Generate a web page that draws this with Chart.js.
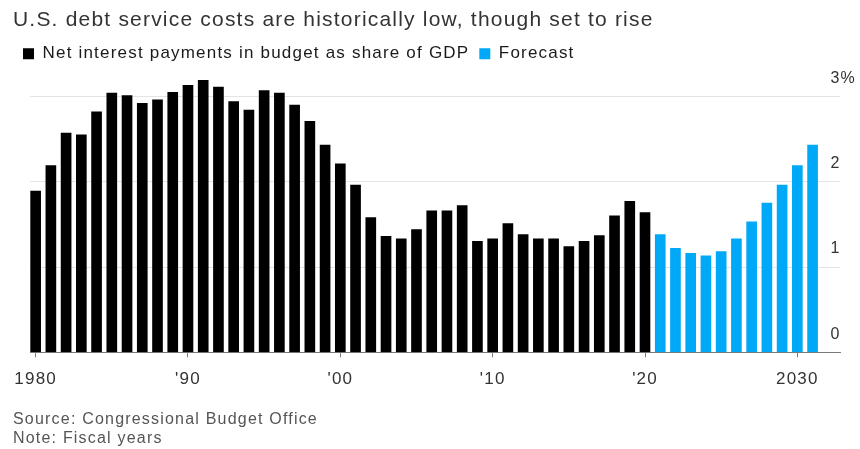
<!DOCTYPE html>
<html><head><meta charset="utf-8">
<script src="https://cdn.jsdelivr.net/npm/chart.js@4/dist/chart.umd.min.js"></script>
<style>html,body{margin:0;padding:0;background:#fff}</style>
</head><body>
<canvas id="c" width="860" height="449"></canvas>
<script>
const actualYears = [1980,1981,1982,1983,1984,1985,1986,1987,1988,1989,1990,1991,1992,1993,1994,1995,1996,1997,1998,1999,2000,2001,2002,2003,2004,2005,2006,2007,2008,2009,2010,2011,2012,2013,2014,2015,2016,2017,2018,2019,2020];
const actualValues = [1.89,2.19,2.57,2.55,2.82,3.04,3.01,2.92,2.96,3.05,3.13,3.19,3.11,2.94,2.84,3.07,3.04,2.90,2.71,2.43,2.21,1.96,1.58,1.36,1.33,1.44,1.66,1.66,1.72,1.30,1.33,1.51,1.38,1.33,1.33,1.24,1.30,1.37,1.60,1.77,1.64];
const forecastYears = [2021,2022,2023,2024,2025,2026,2027,2028,2029,2030,2031];
const forecastValues = [1.38,1.22,1.16,1.13,1.18,1.33,1.53,1.75,1.96,2.19,2.43];
const xTickYears = [1980,1990,2000,2010,2020,2030];
const xTickLabels = ['1980',"'90","'00","'10","'20",'2030'];
const yTickValues = [0,1,2,3];
const yTickLabels = ['0','1','2','3%'];

Chart.defaults.font.family = "'Liberation Sans', Arial, sans-serif";
const spacing = {
  id: 'spacing',
  beforeLayout(chart) { chart.ctx.letterSpacing = '1.2px'; },
  beforeDraw(chart) { chart.ctx.letterSpacing = '1.2px'; }
};
const ctx = document.getElementById('c').getContext('2d');
new Chart(ctx, {
  type: 'bar',
  plugins: [spacing],
  data: {
    datasets: [
      { label: 'Net interest payments in budget as share of GDP',
        data: actualYears.map((y,i)=>({x:y, y:actualValues[i]})),
        backgroundColor: '#000000', barThickness: 10, grouped: false, yAxisID: 'y' },
      { label: 'Forecast',
        data: forecastYears.map((y,i)=>({x:y, y:forecastValues[i]})),
        backgroundColor: '#00a9f8', barThickness: 10, grouped: false, yAxisID: 'y' }
    ]
  },
  options: {
    responsive: false,
    devicePixelRatio: 1,
    animation: false,
    layout: { padding: { left: 13, right: 0, top: 0, bottom: 0 } },
    plugins: {
      title: { display: true, align: 'start', text: 'U.S. debt service costs are historically low, though set to rise',
        color: '#333', font: { size: 21, weight: 'normal' }, padding: { top: 8, bottom: 2 } },
      legend: { display: true, position: 'top', align: 'start',
        labels: { boxWidth: 11, boxHeight: 11, color: '#1a1a1a', font: { size: 17 }, padding: 10 } },
      subtitle: { display: true, position: 'bottom', align: 'start',
        text: ['Source: Congressional Budget Office', 'Note: Fiscal years'],
        color: '#555', font: { size: 16, lineHeight: 1.15 }, padding: { top: 9, bottom: 1.5 } },
      tooltip: { enabled: false }
    },
    scales: {
      x: { type: 'linear', min: 1979.63, max: 2032.8, offset: false,
        afterBuildTicks: a => { a.ticks = xTickYears.map(v => ({ value: v })); },
        ticks: { callback: (v, i) => xTickLabels[i], autoSkip: false, maxRotation: 0, color: '#333', font: { size: 17 }, padding: 12 },
        grid: { offset: false, drawOnChartArea: false, drawTicks: true, tickLength: 5, color: '#7a7a7a' },
        border: { color: '#7a7a7a', width: 1 } },
      y: { position: 'right', min: 0, max: 3.285,
        afterBuildTicks: a => { a.ticks = yTickValues.map(v => ({ value: v })); },
        ticks: { callback: (v, i) => yTickLabels[i], mirror: true, crossAlign: 'far', labelOffset: -18, padding: 16, color: '#333', font: { size: 16 } },
        grid: { color: c => (c.tick && c.tick.value === 0) ? 'rgba(0,0,0,0)' : '#e4e4e4', drawTicks: false, tickLength: 0 },
        border: { display: false },
        afterFit: a => { a.width = 20; } },
      yl: { type: 'linear', position: 'left', display: true,
        ticks: { display: false }, grid: { display: false }, border: { display: false },
        afterFit: a => { a.width = 17; } }
    }
  }
});
</script>
</body></html>
